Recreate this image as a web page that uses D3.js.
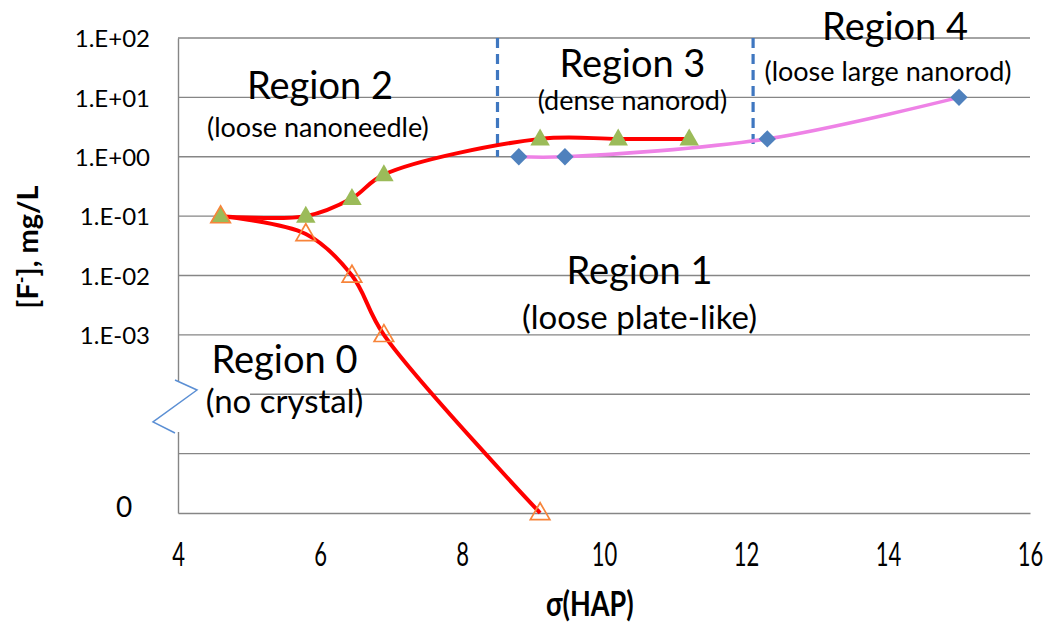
<!DOCTYPE html>
<html><head><meta charset="utf-8">
<script src="https://cdn.jsdelivr.net/npm/d3@7"></script>
<style>body{margin:0;background:#fff;} svg{display:block;font-family:Lato,"Noto Sans",sans-serif;}</style>
</head><body><div id="chart"></div>
<script>
// ---- data ----
const xTicks = [4, 6, 8, 10, 12, 14, 16];
const ySlots = [-6, -5, -4, -3, -2, -1, 0, 1, 2];
const yTickLabels = ["0", "", "", "1.E-03", "1.E-02", "1.E-01", "1.E+00", "1.E+01", "1.E+02"];

const lowerX = [4.6, 5.8, 6.45, 6.9, 9.1];
const lowerY = [0.1, 0.05, 0.01, 0.001, 0];

const upperX = [4.6, 5.8, 6.45, 6.9, 9.1, 10.2, 11.2];
const upperY = [0.1, 0.1, 0.2, 0.5, 2, 2, 2];

const rodX = [8.8, 9.45, 12.3, 15];
const rodY = [1, 1, 2, 10];

const boundX = [8.5, 12.1];
const boundTop = [100, 100];
const boundBottom = [1, 1.6];

const regionNames = ["Region 0", "Region 1", "Region 2", "Region 3", "Region 4"];
const regionNotes = ["(no crystal)", "(loose plate-like)", "(loose nanoneedle)", "(dense nanorod)", "(loose large nanorod)"];
const regionAtX = [5.5, 10.5, 6.0, 10.4, 14.1];
const regionAtSlot = [-3.65, -2.15, 0.98, 1.35, 1.97];
const noteAtX = [5.5, 10.5, 5.97, 10.4, 14.0];
const noteAtSlot = [-4.32, -2.9, 0.33, 0.79, 1.28];

// ---- layout ----
const W = 1050, H = 637;
const svg = d3.select("#chart").append("svg").attr("width", W).attr("height", H);

const x = d3.scaleLinear().domain([4, 16]).range([178, 1030]);
const ySlot = d3.scaleLinear().domain([-6, 2]).range([513, 38]);
const y = v => v === 0 ? ySlot(-6) : ySlot(Math.log10(v));

const gridCol = "#868686";

// gridlines
svg.append("g").selectAll("line").data(ySlots.slice(1)).join("line")
  .attr("x1", x(4)).attr("x2", x(16))
  .attr("y1", d => ySlot(d)).attr("y2", d => ySlot(d))
  .attr("stroke", gridCol).attr("stroke-width", 1.4);

// axes
const xAxis = d3.axisBottom(x).tickValues(xTicks).tickSize(0).tickPadding(0).tickFormat(d3.format("d"));
const gx = svg.append("g").attr("transform", `translate(0,${ySlot(-6)})`).call(xAxis);
gx.attr("font-family", null);
gx.select(".domain").attr("stroke", gridCol).attr("stroke-width", 1.4);
gx.selectAll("text").attr("font-size", 22).attr("fill", "#000")
  .attr("dy", null).attr("y", 0)
  .attr("transform", `translate(0,53) scale(1,1.45)`);

const yAxis = d3.axisLeft(ySlot).tickValues(ySlots).tickSize(0).tickPadding(28)
  .tickFormat((d, i) => yTickLabels[i]);
const gy = svg.append("g").attr("transform", `translate(${x(4)},0)`).call(yAxis);
gy.attr("font-family", null);
gy.select(".domain").attr("stroke", gridCol).attr("stroke-width", 1.4);
gy.selectAll("text").attr("font-size", 24).attr("fill", "#000")
  .attr("dy", "0.36em");
// the "0" label sits in its own box, further left and larger
gy.selectAll(".tick").filter(d => d === -6).select("text")
  .attr("font-size", 28).attr("text-anchor", "middle").attr("x", 124 - x(4)).attr("y", -7);

// axis break
svg.append("rect").attr("x", 170).attr("y", 381).attr("width", 80).attr("height", 51).attr("fill", "#fff");
svg.append("polyline").attr("points", "175,380 197,390 153,422 175,433")
  .attr("fill", "none").attr("stroke", "#5b8fd4").attr("stroke-width", 1.5);

// region boundaries (dashed)
svg.append("g").selectAll("line").data(boundX).join("line")
  .attr("x1", d => x(d)).attr("x2", d => x(d))
  .attr("y1", (d, i) => y(boundTop[i])).attr("y2", (d, i) => y(boundBottom[i]))
  .attr("stroke", "#3f77c0").attr("stroke-width", 3.2).attr("stroke-dasharray", "10,6");

// region labels
const lab = svg.append("g").attr("fill", "#000");
regionNames.forEach((t, i) => {
  lab.append("text").attr("x", x(regionAtX[i])).attr("y", ySlot(regionAtSlot[i]))
    .attr("text-anchor", "middle").attr("font-size", 38).text(t);
  lab.append("text").attr("x", x(noteAtX[i])).attr("y", ySlot(noteAtSlot[i]))
    .attr("text-anchor", "middle").attr("font-size", i < 2 ? 33 : 27).text(regionNotes[i]);
});

// curves
const line = d3.line().x(d => x(d[0])).y(d => y(d[1])).curve(d3.curveCatmullRom.alpha(0.5));
const upper = upperX.map((v, i) => [v, upperY[i]]);
const lower = lowerX.map((v, i) => [v, lowerY[i]]);
const rod = rodX.map((v, i) => [v, rodY[i]]);

svg.append("path").attr("d", line(rod)).attr("fill", "none").attr("stroke", "#ee82e6").attr("stroke-width", 3.6);
svg.append("path").attr("d", line(upper)).attr("fill", "none").attr("stroke", "#ff0000").attr("stroke-width", 4);
svg.append("path").attr("d", line(lower)).attr("fill", "none").attr("stroke", "#ff0000").attr("stroke-width", 4);

// markers
const tri = d3.symbol().type(d3.symbolTriangle).size(165);
const dia = d3.symbol().type(d3.symbolSquare).size(150);

svg.append("g").selectAll("path").data(upper).join("path")
  .attr("d", tri).attr("transform", d => `translate(${x(d[0])},${y(d[1]) + 1})`)
  .attr("fill", "#9bbb59");
svg.append("g").selectAll("path").data(lower).join("path")
  .attr("d", tri).attr("transform", d => `translate(${x(d[0])},${y(d[1]) + 1})`)
  .attr("fill", "none").attr("stroke", "#f7843a").attr("stroke-width", 1.7);
svg.append("g").selectAll("path").data(rod).join("path")
  .attr("d", dia).attr("transform", d => `translate(${x(d[0])},${y(d[1])}) rotate(45)`)
  .attr("fill", "#4f81bd");

// axis titles
svg.append("text").attr("transform", `translate(${x(9.8)},616) scale(1,1.3)`).attr("text-anchor", "middle")
  .attr("font-size", 27).attr("font-weight", "bold").text("σ(HAP)");
const yt = svg.append("text").attr("transform", "translate(38,247) rotate(-90)")
  .attr("text-anchor", "middle").attr("font-size", 29).attr("font-weight", "bold");
yt.append("tspan").text("[F");
yt.append("tspan").attr("dy", -10).attr("font-size", 18).text("-");
yt.append("tspan").attr("dy", 10).text("], mg/L");
</script></body></html>
